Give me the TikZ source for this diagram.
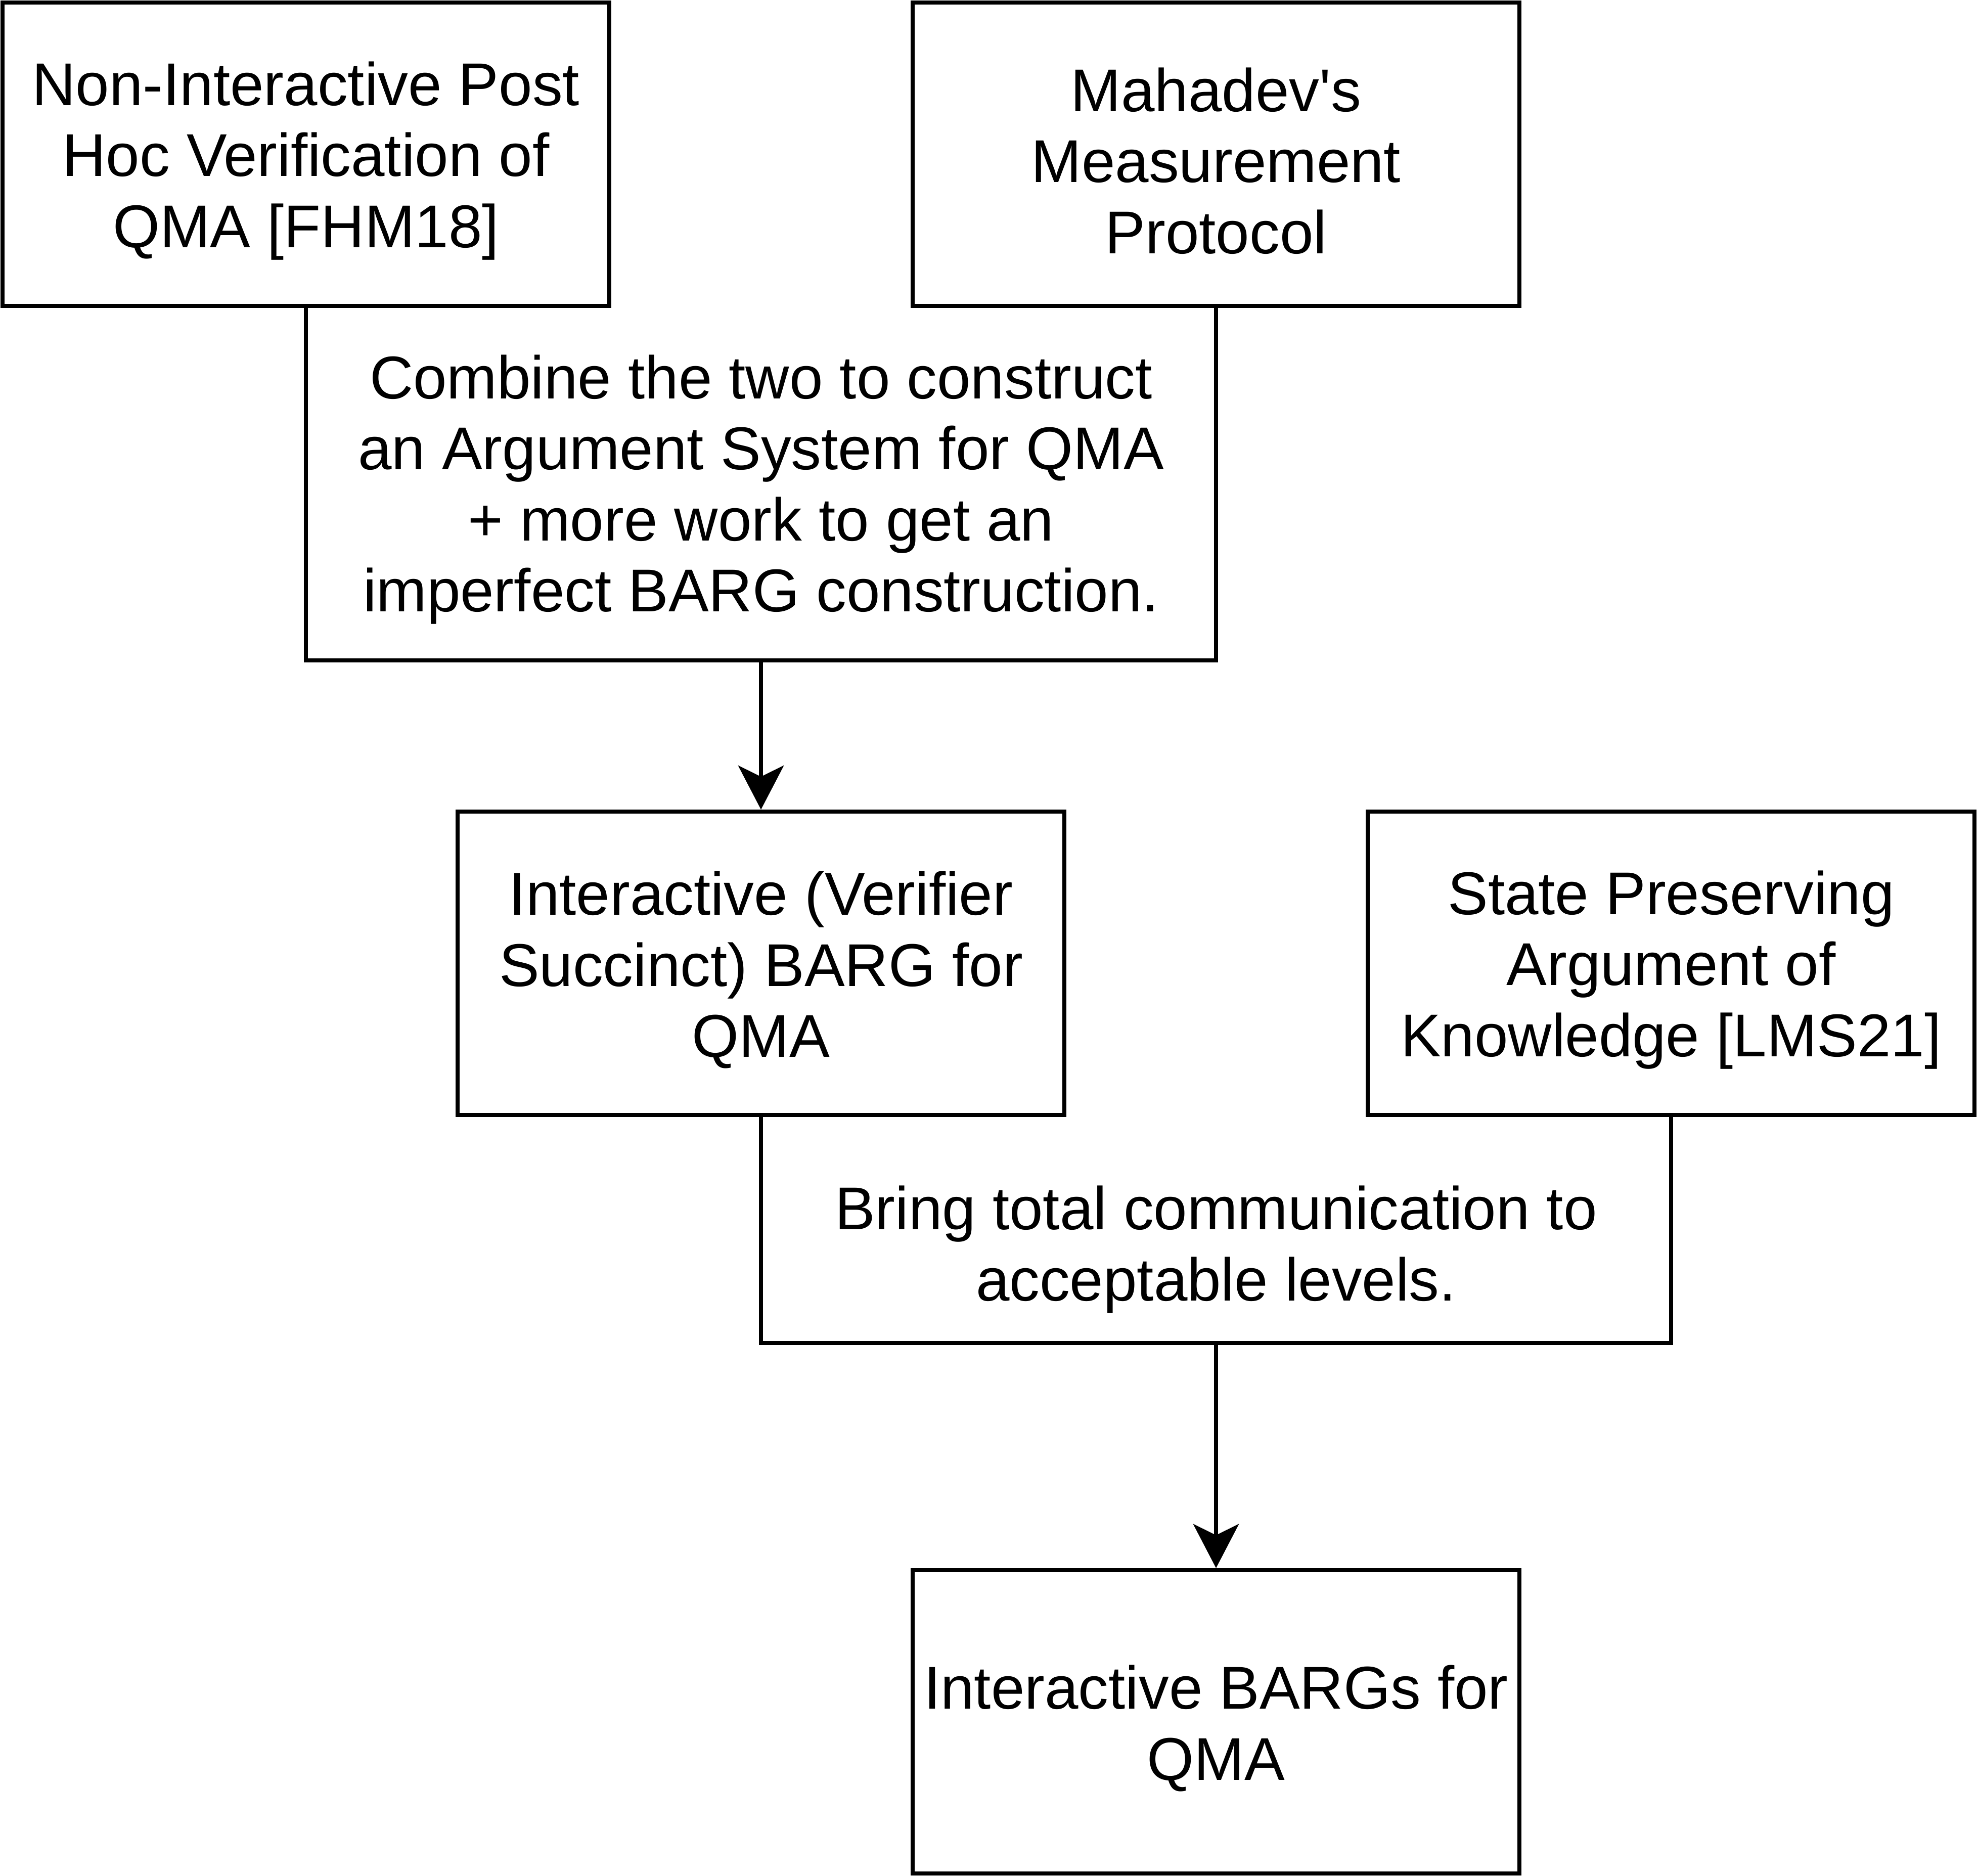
\documentclass[tikz,border=0pt]{standalone}
\usepackage{fontspec}
\newfontfamily\labfont{Liberation Sans}
\usetikzlibrary{arrows.meta}
\begin{document}
\begin{tikzpicture}[
  x=1cm,y=1cm,
  boxline/.style={line width=0.08cm, draw=black},
  txt/.style={rectangle, inner sep=0pt, align=center, font=\labfont\fontsize{34}{40}\selectfont},
  box/.style={boxline, rectangle, minimum width=12cm, minimum height=6cm, inner sep=0pt,
    label={[txt, yshift=-0.13cm]center:#1}},
  conn/.style={line width=0.08cm, -{Stealth[length=0.87cm, width=0.9cm, inset=0.22cm]}}
]
\useasboundingbox (0,0) rectangle (39.1,-37.1);
\node[box={Non-Interactive Post\\Hoc Verification of\\QMA [FHM18]}] (A) at (6.05,-3.05) {};
\node[box={Mahadev's\\Measurement\\Protocol}] (B) at (24.05,-3.05) {};
\node[txt, minimum width=18cm, minimum height=7cm] (C) at (15.05,-9.55) {};
\node[txt] (Ct) at (15.05,-9.68) {Combine the two to construct\\an Argument System for QMA\\+ more work to get an\\imperfect BARG construction.};
\draw[boxline, line join=miter] (A.south) |- (C.south) -| (B.south);
\node[box={Interactive (Verifier\\Succinct) BARG for\\QMA}] (D) at (15.05,-19.05) {};
\node[box={State Preserving\\Argument of\\Knowledge [LMS21]}] (E) at (33.05,-19.05) {};
\node[txt, minimum width=18cm, minimum height=4.5cm] (F) at (24.05,-24.30) {};
\node[txt] (Ft) at (24.05,-24.71) {Bring total communication to\\acceptable levels.};
\draw[boxline, line join=miter] (D.south) |- (F.south) -| (E.south);
\node[box={Interactive BARGs for\\QMA}] (G) at (24.05,-34.05) {};
\draw[conn] (C.south) -- (D.north);
\draw[conn] (F.south) -- (G.north);
\end{tikzpicture}
\end{document}
